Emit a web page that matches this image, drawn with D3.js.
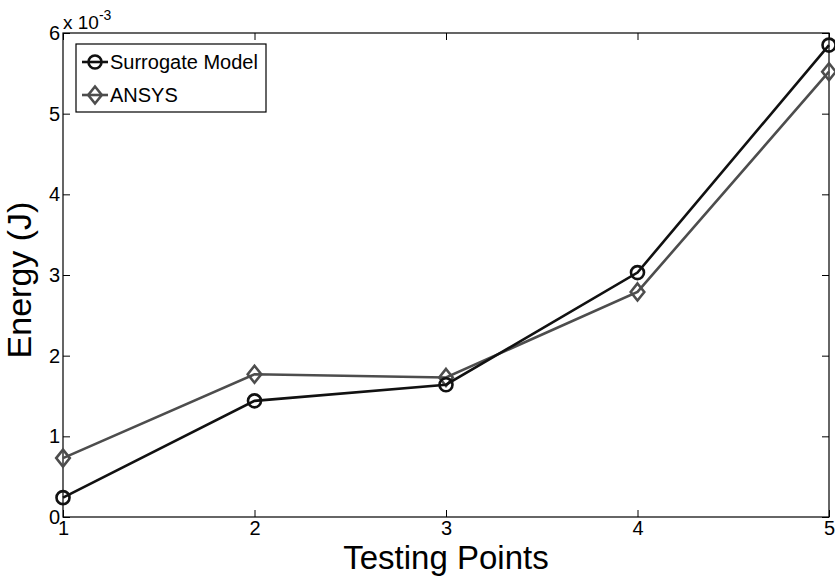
<!DOCTYPE html>
<html>
<head>
<meta charset="utf-8">
<script src="https://cdn.jsdelivr.net/npm/d3@7"></script>
<style>
  html, body { margin: 0; padding: 0; background: #fff; }
  svg text { font-family: "Liberation Sans", Arial, Helvetica, sans-serif; }
</style>
</head>
<body>
<svg id="chart" width="835" height="580"></svg>
<script>
// data (Energy in J)
var testingPoints = [1, 2, 3, 4, 5];
var surrogateModel = [0.00024, 0.00144, 0.00164, 0.00303, 0.00585];
var ansys = [0.00073, 0.00177, 0.00173, 0.00279, 0.00552];
var yTicks = [0, 0.001, 0.002, 0.003, 0.004, 0.005, 0.006];
var seriesNames = ["Surrogate Model", "ANSYS"];
var colors = ["#111111", "#4d4d4d"];

var margin = {left: 63, right: 6, top: 33, bottom: 63};
var width = 835, height = 580;
var tickLen = 7;

var svg = d3.select("#chart");

var x = d3.scaleLinear().domain([1, 5]).range([margin.left, width - margin.right]);
var y = d3.scaleLinear().domain([0, 0.006]).range([height - margin.bottom, margin.top]);

// box
svg.append("rect")
  .attr("x", x(1)).attr("y", y(0.006))
  .attr("width", x(5) - x(1)).attr("height", y(0) - y(0.006))
  .attr("fill", "none").attr("stroke", "#000").attr("stroke-width", 1.2);

function styleAxis(g) {
  g.select(".domain").remove();
  g.selectAll(".tick line").attr("stroke", "#000").attr("stroke-width", 1);
  g.selectAll(".tick text").attr("fill", "#000").style("font-size", "20px");
}

// bottom axis (inward ticks)
svg.append("g")
  .attr("transform", "translate(0," + y(0) + ")")
  .call(d3.axisBottom(x).tickValues(testingPoints).tickFormat(d3.format("d"))
    .tickSizeInner(-tickLen).tickSizeOuter(0).tickPadding(4))
  .call(styleAxis);

// top axis ticks only
svg.append("g")
  .attr("transform", "translate(0," + y(0.006) + ")")
  .call(d3.axisTop(x).tickValues(testingPoints).tickFormat("")
    .tickSizeInner(-tickLen).tickSizeOuter(0))
  .call(styleAxis);

// left axis
svg.append("g")
  .attr("transform", "translate(" + x(1) + ",0)")
  .call(d3.axisLeft(y).tickValues(yTicks).tickFormat(function(d) { return Math.round(d * 1000); })
    .tickSizeInner(-tickLen).tickSizeOuter(0).tickPadding(3))
  .call(styleAxis);

// right axis ticks only
svg.append("g")
  .attr("transform", "translate(" + x(5) + ",0)")
  .call(d3.axisRight(y).tickValues(yTicks).tickFormat("")
    .tickSizeInner(-tickLen).tickSizeOuter(0))
  .call(styleAxis);

// exponent label
var expo = svg.append("text")
  .attr("x", x(1)).attr("y", 29)
  .style("font-size", "19px").attr("fill", "#000");
expo.append("tspan").text("x 10");
expo.append("tspan").attr("dy", -9).style("font-size", "14px").text("-3");

// axis titles
svg.append("text")
  .attr("x", (x(1) + x(5)) / 2).attr("y", 569)
  .attr("text-anchor", "middle")
  .style("font-size", "33px")
  .text("Testing Points");

svg.append("text")
  .attr("transform", "translate(31," + 280 + ") rotate(-90)")
  .attr("text-anchor", "middle")
  .style("font-size", "34px")
  .text("Energy (J)");

// lines and markers
var series = [surrogateModel, ansys];
var line = d3.line()
  .x(function(d, i) { return x(testingPoints[i]); })
  .y(function(d) { return y(d); });

var diamond = function(cx, cy, r) {
  return "M" + cx + "," + (cy - r) + "L" + (cx + r * 0.8) + "," + cy +
         "L" + cx + "," + (cy + r) + "L" + (cx - r * 0.8) + "," + cy + "Z";
};

function drawMarker(g, k, cx, cy) {
  if (k === 0) {
    g.append("circle").attr("cx", cx).attr("cy", cy).attr("r", 6.5)
      .attr("fill", "none").attr("stroke", colors[k]).attr("stroke-width", 2.6);
  } else {
    g.append("path").attr("d", diamond(cx, cy, 8.5))
      .attr("fill", "none").attr("stroke", colors[k]).attr("stroke-width", 2.6);
  }
}

// draw ANSYS first so the black series is on top where they meet
[1, 0].forEach(function(k) {
  var g = svg.append("g");
  g.append("path")
    .datum(series[k])
    .attr("d", line)
    .attr("fill", "none")
    .attr("stroke", colors[k])
    .attr("stroke-width", 2.6);
  series[k].forEach(function(v, i) {
    drawMarker(g, k, x(testingPoints[i]), y(v));
  });
});

// legend
var legend = svg.append("g");
legend.append("rect")
  .attr("x", 76).attr("y", 44).attr("width", 190).attr("height", 68)
  .attr("fill", "#fff").attr("stroke", "#000").attr("stroke-width", 1.2);

seriesNames.forEach(function(name, k) {
  var ly = 62 + k * 33;
  legend.append("line")
    .attr("x1", 82).attr("x2", 108).attr("y1", ly).attr("y2", ly)
    .attr("stroke", colors[k]).attr("stroke-width", 2.6);
  drawMarker(legend, k, 95, ly);
  legend.append("text")
    .attr("x", 110).attr("y", ly + 7)
    .style("font-size", "20px")
    .text(name);
});
</script>
</body>
</html>
